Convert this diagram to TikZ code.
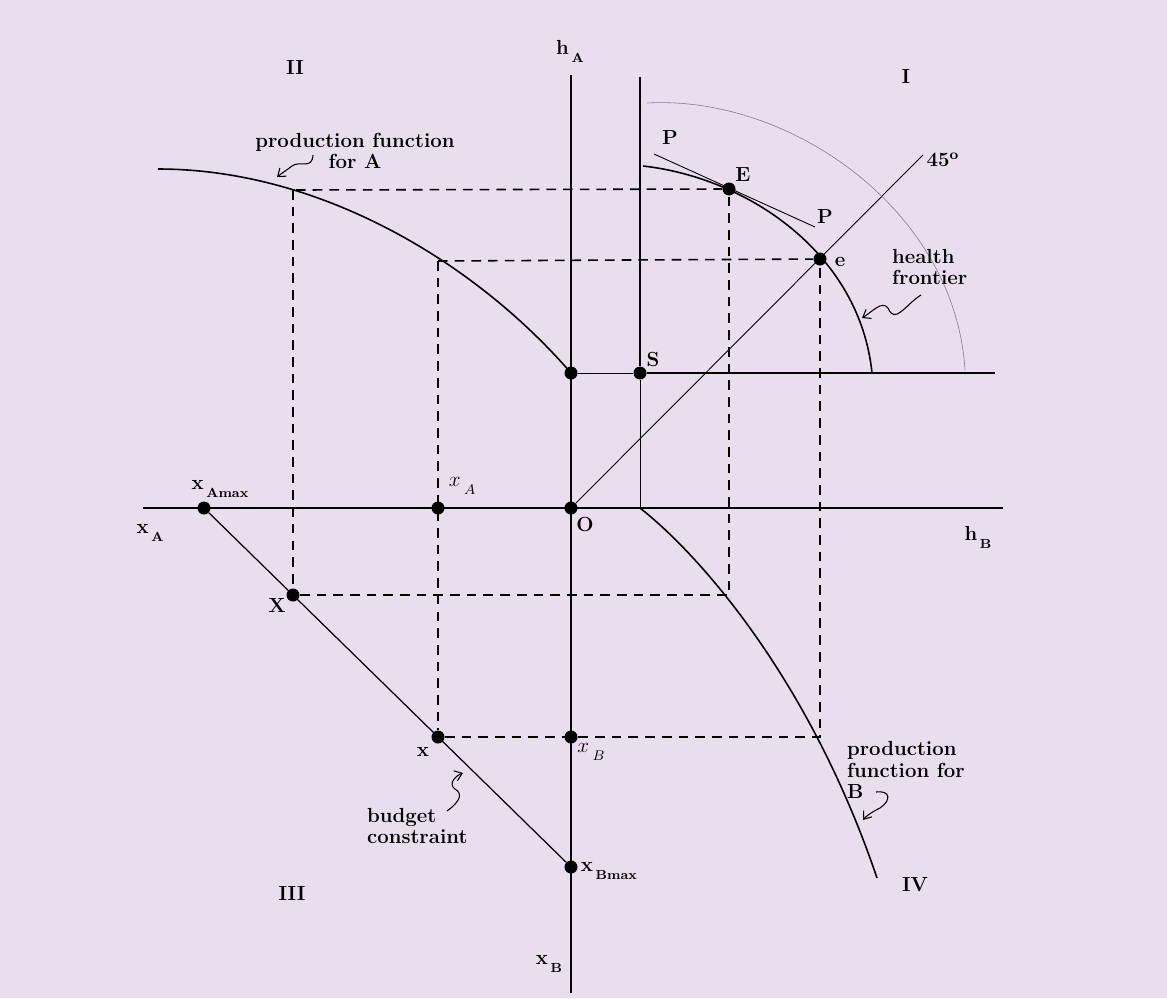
\documentclass[tikz,border=0pt]{standalone}
\usetikzlibrary{arrows.meta}
\tikzset{>=latex}
\definecolor{paper}{RGB}{234,221,238}
\definecolor{pencil}{RGB}{135,125,145}
\newcommand{\sublbl}[2]{#1\kern1.5pt\raisebox{-4.5pt}{\fontsize{7.5}{8}\selectfont #2}}

\begin{document}
\begin{tikzpicture}[x=0.02cm,y=-0.02cm,
    axis/.style={line width=1.1pt},
    curve/.style={line width=0.9pt},
    fine/.style={line width=0.5pt},
    guide/.style={line width=0.9pt,dash pattern=on 5.5pt off 4pt},
    dot/.style={circle,fill=black,inner sep=0pt,minimum size=0.26cm},
    lbl/.style={font=\fontsize{11.6}{12.2}\selectfont\bfseries,inner sep=1pt},
    squiggle/.style={line width=0.6pt,-{Straight Barb[length=4pt,width=6pt]}}]
    \fill[paper] (0,0) rectangle (1167,998);
    \useasboundingbox (0,0) rectangle (1167,998);

    % axes and fixed points
    \coordinate (hAtop) at (571,75);
    \coordinate (xBbot) at (571,993);
    \coordinate (xAleft) at (143,508);
    \coordinate (hBright) at (1003,508);
    \coordinate (Stop) at (640,77);
    \coordinate (Sright) at (995,373);
    \coordinate (Sfoot) at (640,508);
    \coordinate (deg) at (923,155);
    \coordinate (fA1) at (296,190);
    \coordinate (fA2) at (438,261);
    \coordinate (fB1) at (729,597);
    \coordinate (fB2) at (820,737);
    \coordinate (P1) at (654,154);
    \coordinate (P2) at (815,227);

    \node[dot] (O) at (571,508) {};
    \node[dot] (A0) at (571,373) {};
    \node[dot] (S) at (640,373) {};
    \node[dot] (xAmax) at (204,508) {};
    \node[dot] (xA) at (438,508) {};
    \node[dot] (X) at (293,595) {};
    \node[dot] (x) at (438,737) {};
    \node[dot] (xB) at (571,737) {};
    \node[dot] (xBmax) at (571,867) {};
    \node[dot] (E) at (729,189) {};
    \node[dot] (e) at (820,259) {};

    % dashed guides
    \draw[guide] (fA1) -- (E);
    \draw[guide] (293,190) -- (X);
    \draw[guide] (X) -- (729,595) -- (E);
    \draw[guide] (fA2) -- (e);
    \draw[guide] (fA2) -- (x);
    \draw[guide] (x) -- (fB2) -- (e);

    \draw[axis] (hAtop) -- (xBbot);
    \draw[axis] (xAleft) -- (hBright);
    \draw[axis] (Stop) -- (S) -- (Sright);
    \draw[fine] (A0) -- (S);
    \draw[fine] (S) -- (Sfoot);
    \draw[fine] (O) -- (deg);
    \draw[fine] (P1) -- (P2);
    \draw[line width=0.7pt] (xAmax) -- (xBmax);

    % curves
    \draw[curve] (158,169) .. controls (320,169) and (475,262) .. (A0.center);
    \draw[curve] (643,166) .. controls (750,178) and (860,255) .. (872,373);
    \draw[curve] (Sfoot) .. controls (700,555) and (810,680) .. (877,878);
    \draw[pencil,line width=0.35pt] (647,103) .. controls (790,95) and (955,210) .. (965,370);

    % labels
    \node[lbl] (lhA) at (570,51) {\sublbl{h}{A}};
    \node[lbl] (lII) at (295,68) {II};
    \node[lbl] (lI) at (906,77) {I};
    \node[lbl] (lIII) at (292,893) {III};
    \node[lbl] (lIV) at (915,885) {IV};
    \node[lbl,align=center] (lfA) at (355,151) {production function\\for A};
    \node[lbl] (lxAmax) at (220,489) {\sublbl{x}{Amax}};
    \node[lbl] (lxA) at (150,533) {\sublbl{x}{A}};
    \node[inner sep=1pt] (lxAi) at (462,486) {\fontsize{12.5}{13}\selectfont$x$\kern2pt\raisebox{-4.5pt}{\fontsize{8.5}{9}\selectfont$A$}};
    \node[lbl] (lO) at (585,525) {O};
    \node[lbl] (lX) at (277,605) {X};
    \node[lbl] (lx) at (423,752) {x};
    \node[inner sep=1pt] (lxBi) at (591,752) {\fontsize{12.5}{13}\selectfont$x$\kern2pt\raisebox{-4.5pt}{\fontsize{8.5}{9}\selectfont$B$}};
    \node[lbl] (lhB) at (978,537) {\sublbl{h}{B}};
    \node[lbl,align=left,anchor=west] (lbud) at (365,826) {budget\\constraint};
    \node[lbl] (lxBmax) at (609,871) {\sublbl{x}{Bmax}};
    \node[lbl] (lxB) at (549,964) {\sublbl{x}{B}};
    \node[lbl,align=left,anchor=west] (lfB) at (845,770) {production\\function for\\B};
    \node[lbl,align=left,anchor=west] (lhf) at (890,267) {health\\frontier};
    \node[lbl] (lS) at (653,360) {S};
    \node[lbl] (lP1) at (670,138) {P};
    \node[lbl] (lE) at (743,175) {E};
    \node[lbl] (lP2) at (825,217) {P};
    \node[lbl] (le) at (840,262) {e};
    \node[lbl] (l45) at (943,160) {45\textsuperscript{o}};

    % pointers
    \draw[squiggle] (313,155) .. controls (312,170) and (300,160) .. (292,166) .. controls (287,170) and (282,173) .. (277,177);
    \draw[squiggle] (921,295) .. controls (905,305) and (895,325) .. (888,308) .. controls (882,300) and (872,312) .. (862,318);
    \draw[squiggle] (447,811) .. controls (462,800) and (462,793) .. (455,789) .. controls (448,784) and (455,776) .. (463,773);
    \draw[squiggle] (876,792) .. controls (890,790) and (892,800) .. (880,808) .. controls (872,812) and (866,816) .. (863,820);
\end{tikzpicture}
\end{document}
